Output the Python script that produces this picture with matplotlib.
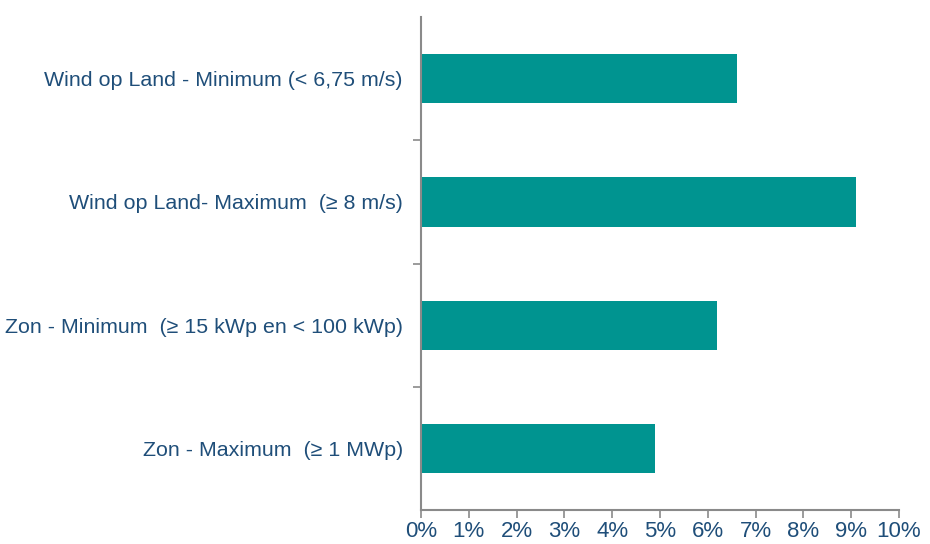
import matplotlib.pyplot as plt
import numpy as np

# categories top to bottom
categories = [
    "Wind op Land - Minimum (< 6,75 m/s)",
    "Wind op Land- Maximum  (≥ 8 m/s)",
    "Zon - Minimum  (≥ 15 kWp en < 100 kWp)",
    "Zon - Maximum  (≥ 1 MWp)",
]
values = [6.6, 9.1, 6.2, 4.9]  # percent
xticks = np.arange(0, 11, 1)

text_col = "#1f4e79"
bar_col = "#009490"
axis_col = "#8a8a8a"

plt.rcParams['font.family'] = ['Liberation Sans', 'DejaVu Sans']

fig = plt.figure(figsize=(9.3, 5.44), dpi=100)
ax = fig.add_axes([0.4527, 0.0625, 0.514, 0.906])

y = np.arange(len(categories))[::-1]
ax.barh(y, values, height=0.4, color=bar_col)

ax.set_xlim(0, 10)
ax.set_ylim(-0.5, len(categories) - 0.5)
ax.set_xticks(xticks)
ax.set_xticklabels([f"{v}%" for v in xticks], fontsize=16, color=text_col)

# category labels at bar centres, tick marks at the boundaries
ax.set_yticks(y)
ax.set_yticklabels(categories, fontsize=15.4, color=text_col)
ax.tick_params(axis="y", which="major", length=0, pad=13)
ax.set_yticks(np.arange(0.5, len(categories) - 1, 1), minor=True)
ax.tick_params(axis="y", which="minor", length=6, color=axis_col, width=1.2)
ax.tick_params(axis="x", length=6, color=axis_col, width=1.2, pad=2)

for s in ["top", "right"]:
    ax.spines[s].set_visible(False)
for s in ["left", "bottom"]:
    ax.spines[s].set_color(axis_col)
    ax.spines[s].set_linewidth(1.5)

fig.savefig("out.png", dpi=100)
